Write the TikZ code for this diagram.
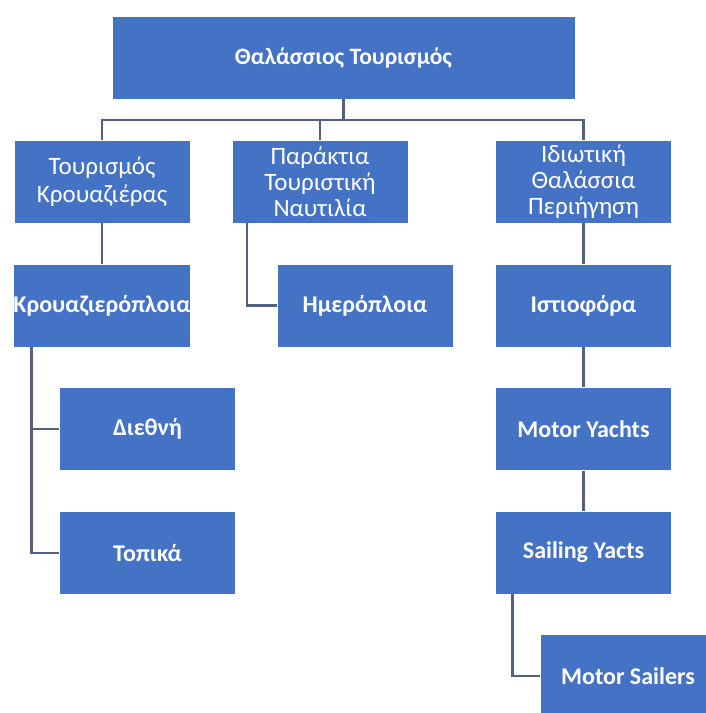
\documentclass[tikz,border=0pt]{standalone}
\usepackage{fontspec}
\setmainfont{Carlito}
\usepackage{tikz}
\usetikzlibrary{positioning}
\definecolor{boxblue}{HTML}{4472C4}
\definecolor{linkgray}{RGB}{84,96,128}
\tikzset{
    bluenode/.style={
        rectangle,
        draw=white, % λεπτό λευκό περίγραμμα
        fill=boxblue,
        text=white,
        minimum width=176pt,
        minimum height=83pt,
        inner sep=0,
        align=center,
        font=\fontsize{24}{27}\selectfont\bfseries
    },
    catnode/.style={
        bluenode,
        font=\fontsize{25}{26}\selectfont
    },
    rootnode/.style={
        bluenode,
        minimum width=463pt,
        font=\fontsize{23.5}{26}\selectfont\bfseries
    },
    link/.style={
        draw=linkgray,
        line width=2.5pt
    }
}

\begin{document}
\begin{tikzpicture}[x=1pt, y=-1pt]
            \useasboundingbox[fill=white] (0,0) rectangle (705,713);
            % ρίζα
            \node[rootnode] (root) at (343.5,57.5) {Θαλάσσιος Τουρισμός};
            % πρώτο επίπεδο
            \node[catnode] (cruise) at (102,181.5) {Τουρισμός\\[2pt]Κρουαζιέρας};
            \node[catnode] (coastal) at (320,181.5) {Παράκτια\\Τουριστική\\Ναυτιλία};
            \node[catnode] (private) at (583.5,181.5) {Ιδιωτική\\Θαλάσσια\\Περιήγηση};
            % δεύτερο επίπεδο
            \node[bluenode] (cruiseships) at (102,305.5) {Κρουαζιερόπλοια};
            \node[bluenode] (dayboats) at (365,305.5) {Ημερόπλοια};
            \node[bluenode] (sailboats) at (583.5,305.5) {Ιστιοφόρα};
            % κάτω από τα κρουαζιερόπλοια
            \node[bluenode] (intl) at (147.5,429) {Διεθνή};
            \node[bluenode] (local) at (147.5,553) {Τοπικά};
            % δεξιά στήλη
            \node[bluenode] (motoryachts) at (583.5,429) {Motor Yachts};
            \node[bluenode] (sailyachts) at (583.5,552.5) {Sailing Yacts};
            \node[bluenode] (motorsailers) at (628,676) {Motor Sailers};
            % συνδέσεις
            \coordinate (bus) at (343.5,120);
            \draw[link] (root.south) -- (bus);
            \draw[link] (bus) -| (cruise.north);
            \draw[link] (bus) -| (coastal.north);
            \draw[link] (bus) -| (private.north);
            \draw[link] (cruise.south) -- (cruiseships.north);
            \draw[link] ([xshift=15pt]coastal.south west) |- (dayboats.west);
            \draw[link] ([xshift=18pt]cruiseships.south west) |- (intl.west);
            \draw[link] ([xshift=18pt]cruiseships.south west) |- (local.west);
            \draw[link] (private.south) -- (sailboats.north);
            \draw[link] (sailboats.south) -- (motoryachts.north);
            \draw[link] (motoryachts.south) -- (sailyachts.north);
            \draw[link] ([xshift=17pt]sailyachts.south west) |- (motorsailers.west);
\end{tikzpicture}
\end{document}
